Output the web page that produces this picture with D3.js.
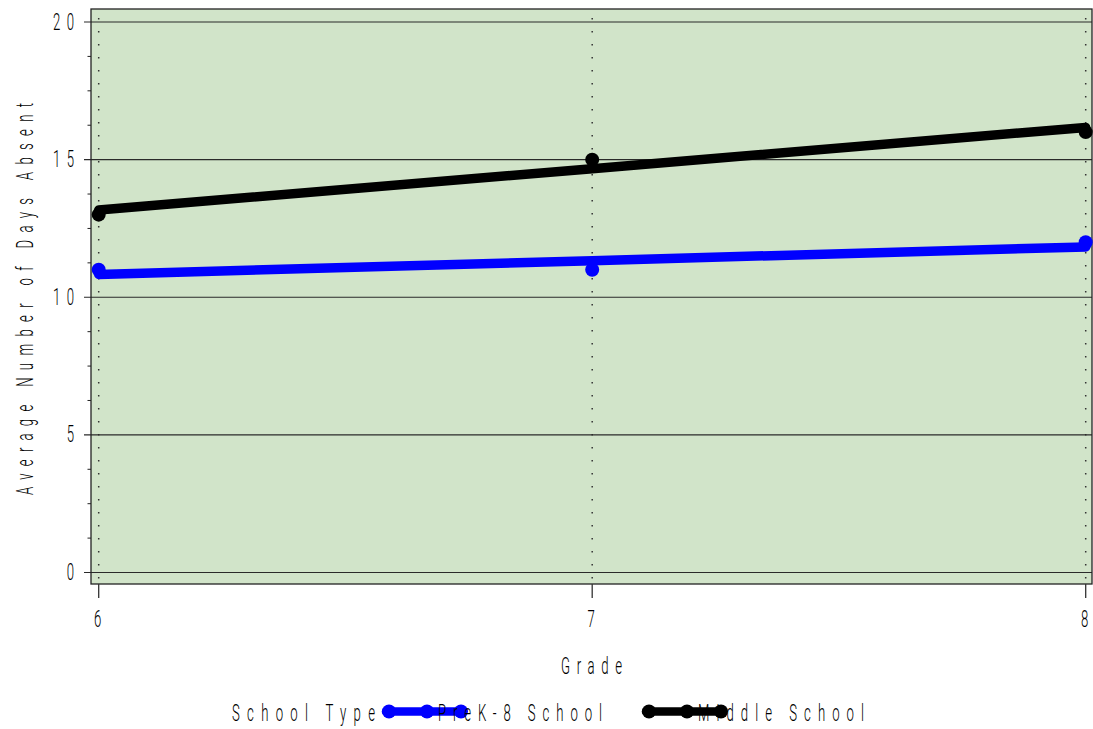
<!DOCTYPE html>
<html><head><meta charset="utf-8">
<script src="https://cdn.jsdelivr.net/npm/d3@7"></script>
<style>
body{margin:0;background:#fff;}
text{font-family:Roboto,"Liberation Sans",sans-serif;font-weight:300;fill:#000;}
</style></head>
<body><svg id="c" width="1093" height="729"></svg>
<script>
const grades = [6, 7, 8];
const prekValues = [11, 11, 12];
const middleValues = [13, 15, 16];
const prekFit = [10.83, 11.33, 11.83];
const middleFit = [13.17, 14.67, 16.17];
const yTicks = [0, 5, 10, 15, 20];
const seriesNames = ["PreK-8 School", "Middle School"];
const seriesColors = ["#0000ff", "#000000"];

const svg = d3.select("#c");
const L = 91, R = 1092, T = 9, B = 584;
const x = d3.scaleLinear().domain([6, 8]).range([98.7, 1085.7]);
const y = d3.scaleLinear().domain([0, 20]).range([572.5, 22]);
const SX = 0.56, FS = 23.5;

function txt(str, px, py, width, anchor, rot) {
  const t = svg.append("text")
    .attr("transform", `translate(${px},${py})` + (rot ? ` rotate(${rot})` : "") + ` scale(${SX},1)`)
    .attr("font-size", FS).attr("text-anchor", anchor || "start").text(str);
  if (width) t.attr("textLength", width / SX).attr("lengthAdjust", "spacing");
  return t;
}

svg.append("rect").attr("x", L).attr("y", T).attr("width", R - L).attr("height", B - T)
  .attr("fill", "#d1e4c9");

// vertical dotted grid
grades.forEach(g => {
  svg.append("line").attr("x1", x(g)).attr("x2", x(g)).attr("y1", T + 9).attr("y2", B)
    .attr("stroke", "#333").attr("stroke-width", 1.5).attr("stroke-dasharray", "1.5,11.5");
});
// horizontal grid lines with major ticks
yTicks.forEach(v => {
  svg.append("line").attr("x1", 84).attr("x2", R).attr("y1", y(v)).attr("y2", y(v))
    .attr("stroke", "#2a2a2a").attr("stroke-width", 1.2);
});
// minor ticks
const minor = d3.range(0, 20.001, 1.25).filter(v => v % 5 !== 0);
minor.forEach(v => {
  svg.append("line").attr("x1", 87.5).attr("x2", L).attr("y1", y(v)).attr("y2", y(v))
    .attr("stroke", "#222").attr("stroke-width", 1);
});
// frame
svg.append("rect").attr("x", L).attr("y", T).attr("width", R - L).attr("height", B - T)
  .attr("fill", "none").attr("stroke", "#222").attr("stroke-width", 1.3);

// x ticks
grades.forEach(g => {
  svg.append("line").attr("x1", x(g)).attr("x2", x(g)).attr("y1", B).attr("y2", 598)
    .attr("stroke", "#333").attr("stroke-width", 1.3);
  txt(String(g), x(g) - 1, 627, null, "middle");
});
// y tick labels
yTicks.forEach(v => {
  const s = String(v);
  txt(s, 74, y(v) + 7.5, s.length > 1 ? 21 : null, "end");
});

// axis titles
txt("Grade", 561, 674, 61, "start");
txt("Average Number of Days Absent", 33, 299, 392, "middle", -90);

// series
const line = d3.line().x(d => x(d[0])).y(d => y(d[1]));
const fits = [prekFit, middleFit];
const vals = [prekValues, middleValues];
[0, 1].forEach(i => {
  svg.append("path").attr("d", line(grades.map((g, j) => [g, fits[i][j]])))
    .attr("fill", "none").attr("stroke", seriesColors[i]).attr("stroke-width", 9.5)
    .attr("stroke-linecap", "round");
  svg.selectAll(null).data(grades.map((g, j) => [g, vals[i][j]])).enter().append("circle")
    .attr("cx", d => x(d[0])).attr("cy", d => y(d[1])).attr("r", 7).attr("fill", seriesColors[i]);
});

// legend
const ly = 711.5;
txt("School Type", 232, 721, 143, "start");
const legX = [[386, 462], [646, 722]];
const txtX = [438, 698];
const txtW = [164, 166];
[0, 1].forEach(i => {
  svg.append("line").attr("x1", legX[i][0]).attr("x2", legX[i][1]).attr("y1", ly).attr("y2", ly)
    .attr("stroke", seriesColors[i]).attr("stroke-width", 8.5).attr("stroke-linecap", "round");
  [legX[i][0] + 3, (legX[i][0] + legX[i][1]) / 2 + 3, legX[i][1] - 1].forEach(cx => {
    svg.append("circle").attr("cx", cx).attr("cy", ly).attr("r", 7).attr("fill", seriesColors[i]);
  });
  txt(seriesNames[i], txtX[i], 721, txtW[i], "start");
});
</script></body></html>
